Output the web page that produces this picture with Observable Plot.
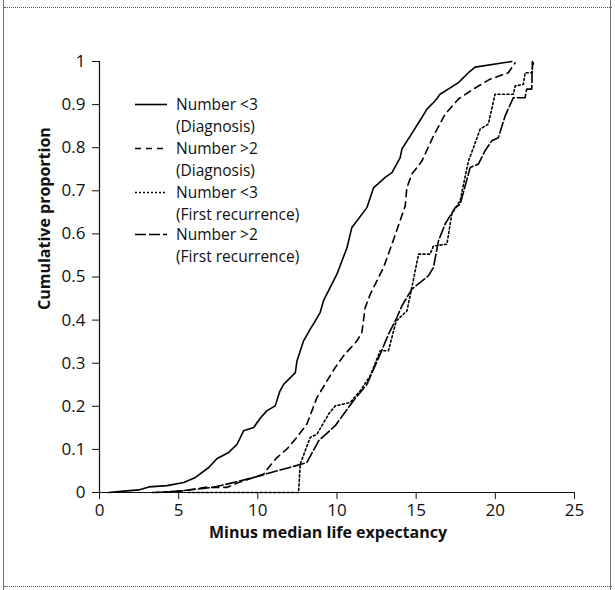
<!DOCTYPE html>
<html>
<head>
<meta charset="utf-8">
<script src="https://cdn.jsdelivr.net/npm/d3@7"></script>
<script src="https://cdn.jsdelivr.net/npm/@observablehq/plot@0.6"></script>
<style>
  html, body { margin: 0; padding: 0; background: #fff; }
  #wrap { position: relative; width: 615px; height: 590px; overflow: hidden; font-family: "Open Sans", sans-serif; color: #111; }
  .vline { position: absolute; top: 0; width: 0; height: 590px; border-left: 1.5px solid #777; }
  .hline { position: absolute; left: 4px; width: 608px; height: 0; border-top: 1px dotted #555; }
  #legend { position: absolute; left: 0; top: 0; }
  .sw { position: absolute; left: 134px; }
  .lbl { position: absolute; left: 176px; font-size: 15.5px; line-height: 20px; height: 20px; white-space: nowrap; color: #111; }
  #chart { position: absolute; left: 0; top: 0; }
</style>
</head>
<body>
<div id="wrap">
  <div id="chart"></div>
  <div id="legend"></div>
  <div class="vline" style="left:3px"></div>
  <div class="vline" style="left:610px"></div>
  <div class="hline" style="top:7px"></div>
  <div class="hline" style="top:586px"></div>
</div>
<script>
// X positions are in axis units 0..30 (tick spacing 5); the printed tick labels follow the original figure.
const xTickValues = [0, 5, 10, 15, 20, 25, 30];
const xTickLabels = ["0", "5", "10", "10", "15", "20", "25"];
const yTickValues = [0, 0.1, 0.2, 0.3, 0.4, 0.5, 0.6, 0.7, 0.8, 0.9, 1];
const yTickLabels = ["0", "0.1", "0.2", "0.3", "0.4", "0.5", "0.6", "0.7", "0.8", "0.9", "1"];

const seriesNames = [
  ["Number <3", "(Diagnosis)"],
  ["Number >2", "(Diagnosis)"],
  ["Number <3", "(First recurrence)"],
  ["Number >2", "(First recurrence)"]
];
const seriesDash = [null, "7,5", "2,2.5", "11,3"];

// Number <3 (Diagnosis)
const s1x = [0.59, 1.2, 2.48, 3.11, 4.27, 5.32, 6.06, 6.9, 7.43, 8.16, 8.69, 9.1, 9.74, 10.16, 10.58, 11.1, 11.38, 11.63, 12.37, 12.47, 12.89, 13.31, 13.63, 13.94, 14.15, 15.0, 15.63, 15.94, 16.89, 17.31, 18.04, 18.47, 18.99, 19.1, 19.62, 20.36, 20.67, 21.2, 21.51, 22.67, 23.3, 23.72, 26.04];
const s1y = [0, 0.002, 0.006, 0.013, 0.016, 0.023, 0.035, 0.058, 0.079, 0.093, 0.112, 0.143, 0.151, 0.173, 0.19, 0.201, 0.234, 0.251, 0.278, 0.305, 0.352, 0.379, 0.398, 0.418, 0.445, 0.507, 0.568, 0.615, 0.661, 0.707, 0.731, 0.742, 0.777, 0.797, 0.827, 0.87, 0.889, 0.909, 0.924, 0.951, 0.974, 0.987, 1.0];

// Number >2 (Diagnosis)
const s2x = [3.32, 4.9, 6.69, 8.06, 8.79, 10.05, 10.37, 10.68, 11.21, 11.84, 12.47, 13.1, 13.73, 14.37, 14.89, 15.41, 16.26, 16.57, 16.78, 17.1, 17.94, 18.47, 19.31, 19.41, 19.73, 20.36, 21.09, 21.83, 22.67, 23.61, 24.67, 25.82, 26.25];
const s2y = [0, 0.002, 0.012, 0.012, 0.023, 0.039, 0.043, 0.058, 0.081, 0.101, 0.128, 0.159, 0.22, 0.259, 0.29, 0.317, 0.352, 0.371, 0.429, 0.46, 0.522, 0.576, 0.665, 0.707, 0.739, 0.769, 0.827, 0.878, 0.913, 0.936, 0.959, 0.974, 0.997];

// Number <3 (First recurrence)
const s3x = [5.6, 12.57, 12.68, 13.31, 13.73, 14.47, 14.89, 15.84, 16.47, 17.1, 17.73, 18.25, 18.74, 19.41, 19.73, 20.15, 20.88, 21.09, 21.94, 22.25, 22.78, 23.3, 23.62, 24.04, 24.56, 24.98, 26.14, 26.25, 26.77, 26.88, 27.3, 27.4];
const s3y = [0, 0, 0.066, 0.128, 0.135, 0.182, 0.201, 0.209, 0.236, 0.271, 0.329, 0.329, 0.398, 0.421, 0.476, 0.553, 0.553, 0.572, 0.576, 0.646, 0.677, 0.769, 0.8, 0.843, 0.855, 0.924, 0.924, 0.943, 0.947, 0.974, 0.974, 0.997];

// Number >2 (First recurrence)
const s4x = [3.6, 5.2, 7.21, 8.9, 10.16, 10.79, 12.79, 13.1, 13.84, 14.89, 16.04, 16.89, 17.73, 18.25, 18.78, 19.1, 19.73, 20.78, 21.09, 21.41, 21.83, 22.46, 22.78, 23.41, 23.93, 24.35, 24.78, 25.19, 25.62, 26.14, 26.88, 26.98, 27.3, 27.34];
const s4y = [0, 0.004, 0.012, 0.027, 0.039, 0.046, 0.066, 0.07, 0.12, 0.155, 0.213, 0.251, 0.321, 0.367, 0.406, 0.433, 0.472, 0.503, 0.522, 0.584, 0.623, 0.661, 0.669, 0.754, 0.762, 0.793, 0.816, 0.823, 0.874, 0.916, 0.916, 0.936, 0.936, 1.0];

const allX = [s1x, s2x, s3x, s4x];
const allY = [s1y, s2y, s3y, s4y];
const series = allX.map((xs, k) => xs.map((x, i) => ({x, y: allY[k][i]})));

const marks = [
  Plot.ruleY([0], {stroke: "#111", strokeWidth: 1.2}),
  Plot.ruleX([0], {stroke: "#111", strokeWidth: 1.2}),
  ...series.map((data, k) => Plot.line(data, {
    x: "x", y: "y", stroke: "#000", strokeWidth: 1.6,
    strokeDasharray: seriesDash[k] || undefined
  })),
  Plot.text(["Minus median life expectancy"], {
    frameAnchor: "bottom", text: d => d, dy: 45, dx: -9,
    fontWeight: "bold", fontSize: 16, fill: "#111"
  }),
  Plot.text(["Cumulative proportion"], {
    frameAnchor: "left", text: d => d, rotate: -90, dx: -55, dy: 33,
    fontWeight: "bold", fontSize: 16, fill: "#111"
  })
];

const chart = Plot.plot({
  width: 615,
  height: 590,
  marginLeft: 99,
  marginRight: 41,
  marginTop: 61,
  marginBottom: 98,
  style: {fontFamily: "Open Sans, sans-serif", fontSize: "17px", color: "#111", background: "transparent"},
  x: {
    domain: [0, 30],
    ticks: xTickValues,
    tickFormat: d => xTickLabels[xTickValues.indexOf(d)],
    tickSize: 7,
    tickPadding: 4,
    label: null
  },
  y: {
    domain: [0, 1],
    ticks: yTickValues,
    tickFormat: d => yTickLabels[yTickValues.findIndex(v => Math.abs(v - d) < 1e-9)],
    tickSize: 7,
    tickPadding: 7,
    label: null
  },
  marks
});
document.getElementById("chart").appendChild(chart);

// Legend (HTML overlay inside the plot area)
const legend = document.getElementById("legend");
const legendTops = [94, 138, 182, 224];
const lineGap = 21.5;
const ns = "http://www.w3.org/2000/svg";
seriesNames.forEach((lines, k) => {
  const top = legendTops[k];
  const svg = document.createElementNS(ns, "svg");
  svg.setAttribute("class", "sw");
  svg.setAttribute("width", 36);
  svg.setAttribute("height", 20);
  svg.style.top = top + "px";
  const ln = document.createElementNS(ns, "line");
  ln.setAttribute("x1", 1); ln.setAttribute("x2", 33);
  ln.setAttribute("y1", 10.5); ln.setAttribute("y2", 10.5);
  ln.setAttribute("stroke", "#000");
  ln.setAttribute("stroke-width", 1.6);
  const legDash = [null, "6,5", "2,2", "11,3"][k];
  if (legDash) ln.setAttribute("stroke-dasharray", legDash);
  svg.appendChild(ln);
  legend.appendChild(svg);
  lines.forEach((s, j) => {
    const lbl = document.createElement("div");
    lbl.className = "lbl";
    lbl.style.top = (top + j * lineGap) + "px";
    lbl.textContent = s;
    legend.appendChild(lbl);
  });
});
</script>
</body>
</html>
